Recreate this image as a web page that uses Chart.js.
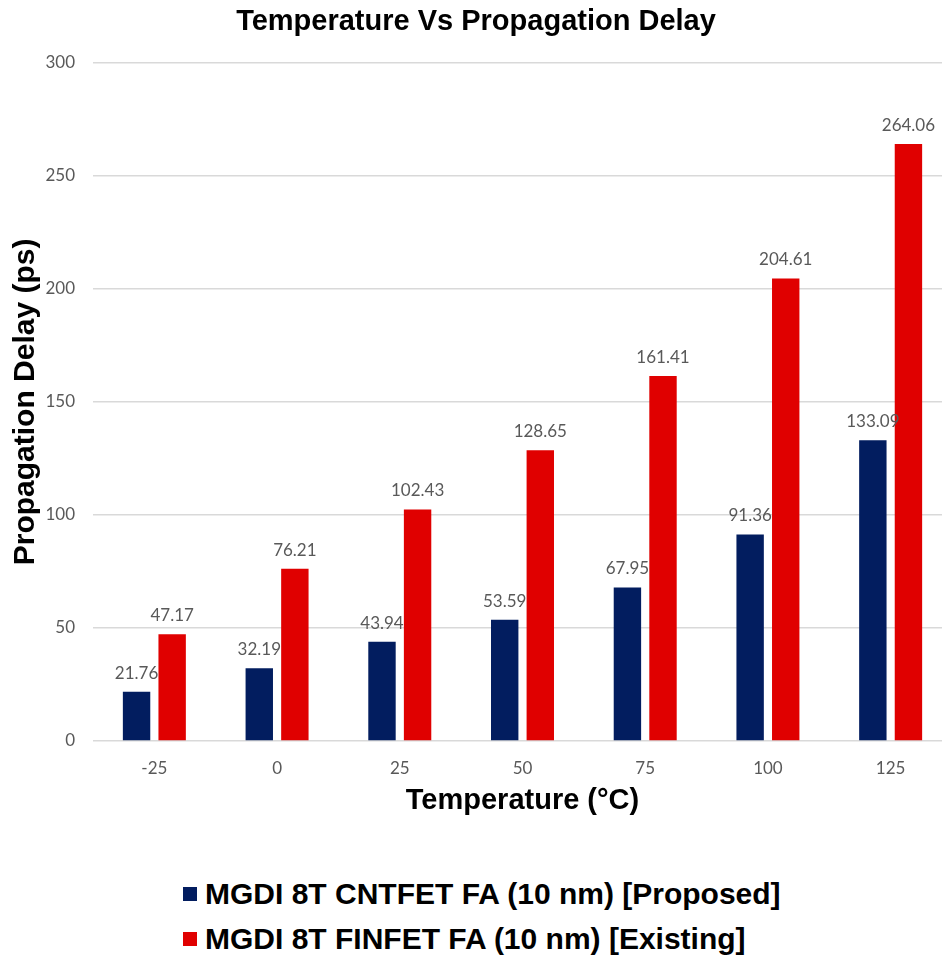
<!DOCTYPE html>
<html>
<head>
<meta charset="utf-8">
<title>Temperature Vs Propagation Delay</title>
<script src="https://cdn.jsdelivr.net/npm/chart.js@4.4.1/dist/chart.umd.min.js"></script>
<style>
  html, body { margin: 0; padding: 0; background: #fff; overflow: hidden; }
  #wrap { position: relative; width: 952px; height: 958px; }
  #legend {
    position: absolute; left: 183px; top: 871px;
    font: bold 30px "Liberation Sans", Arial, sans-serif; color: #000;
  }
  #legend .row { height: 45px; line-height: 45px; white-space: nowrap; }
  #legend .box {
    display: inline-block; width: 14px; height: 14px;
    margin-right: 8px; vertical-align: middle; position: relative; top: -2px;
  }
</style>
</head>
<body>
<div id="wrap">
  <canvas id="chart" width="952" height="830"></canvas>
  <div id="legend"></div>
</div>
<script>
// temperatures in °C
const temperatures = ['-25', '0', '25', '50', '75', '100', '125'];
// propagation delay in ps
const cntfetDelay = [21.76, 32.19, 43.94, 53.59, 67.95, 91.36, 133.09];
const finfetDelay = [47.17, 76.21, 102.43, 128.65, 161.41, 204.61, 264.06];
const seriesNames = [
  'MGDI 8T CNTFET FA (10 nm) [Proposed]',
  'MGDI 8T FINFET FA (10 nm) [Existing]'
];
const yTicks = [0, 50, 100, 150, 200, 250, 300];

const NAVY = '#021d5f';
const RED = '#e00000';
const LABEL_GREY = '#595959';

// value labels above each bar
const barValueLabels = {
  id: 'barValueLabels',
  afterDatasetsDraw(chart) {
    const ctx = chart.ctx;
    ctx.save();
    ctx.font = '17px Lato, "Open Sans", sans-serif';
    ctx.fillStyle = LABEL_GREY;
    ctx.textAlign = 'center';
    ctx.textBaseline = 'bottom';
    chart.data.datasets.forEach((ds, i) => {
      chart.getDatasetMeta(i).data.forEach((bar, j) => {
        ctx.fillText(ds.data[j].toFixed(2), bar.x, bar.y - 10);
      });
    });
    ctx.restore();
  }
};

const chart = new Chart(document.getElementById('chart'), {
  type: 'bar',
  data: {
    labels: temperatures,
    datasets: [
      { label: seriesNames[0], data: cntfetDelay, backgroundColor: NAVY },
      { label: seriesNames[1], data: finfetDelay, backgroundColor: RED }
    ]
  },
  options: {
    responsive: false,
    animation: false,
    categoryPercentage: 0.58,
    barPercentage: 0.77,
    layout: { padding: { top: 0, right: 0, bottom: 9, left: 0 } },
    plugins: {
      legend: { display: false },
      tooltip: { enabled: false },
      title: {
        display: true,
        text: 'Temperature Vs Propagation Delay',
        color: '#000',
        font: { family: '"Liberation Sans", Arial, sans-serif', size: 29, weight: 'bold', lineHeight: 1.2 },
        padding: { top: 5, bottom: 23 }
      }
    },
    scales: {
      x: {
        afterFit: axis => { axis.height = 80; },
        grid: { display: false },
        border: { display: false },
        ticks: {
          color: LABEL_GREY,
          padding: 9,
          maxRotation: 0,
          font: { family: 'Lato, "Open Sans", sans-serif', size: 17, lineHeight: 1.2 }
        },
        title: {
          display: true,
          text: 'Temperature (°C)',
          color: '#000',
          font: { family: '"Liberation Sans", Arial, sans-serif', size: 29, weight: 'bold', lineHeight: 1.2 },
          padding: { top: 6, bottom: 3 }
        }
      },
      y: {
        min: 0,
        max: 300,
        afterBuildTicks: axis => { axis.ticks = yTicks.map(v => ({ value: v })); },
        afterFit: axis => { axis.width = 93; },
        grid: { color: '#d9d9d9', lineWidth: 1.5, drawTicks: false },
        border: { display: false },
        ticks: {
          color: LABEL_GREY,
          padding: 18,
          font: { family: 'Lato, "Open Sans", sans-serif', size: 17 }
        },
        title: {
          display: true,
          text: 'Propagation Delay (ps)',
          color: '#000',
          font: { family: '"Liberation Sans", Arial, sans-serif', size: 30, weight: 'bold', lineHeight: 1.2 },
          padding: { top: 8, bottom: 0 }
        }
      }
    }
  },
  plugins: [barValueLabels]
});

// legend rows built from the chart's own datasets
const legendEl = document.getElementById('legend');
chart.data.datasets.forEach(ds => {
  const row = document.createElement('div');
  row.className = 'row';
  const box = document.createElement('span');
  box.className = 'box';
  box.style.background = ds.backgroundColor;
  row.appendChild(box);
  row.appendChild(document.createTextNode(ds.label));
  legendEl.appendChild(row);
});
</script>
</body>
</html>
